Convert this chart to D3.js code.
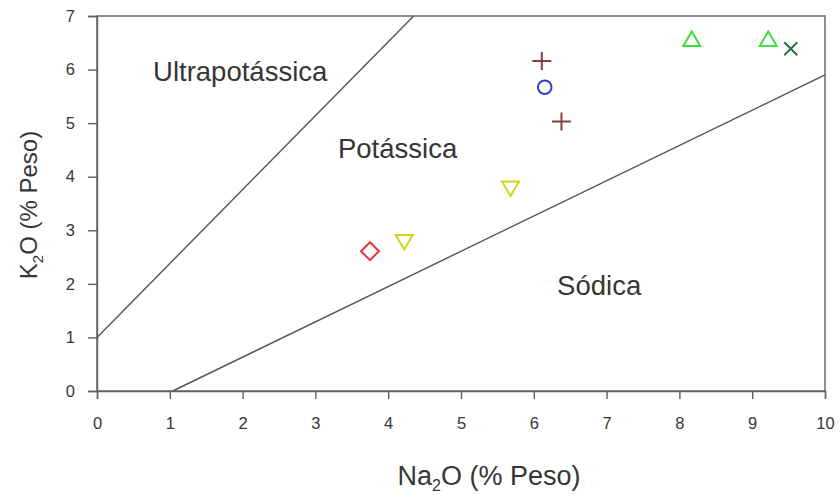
<!DOCTYPE html>
<html>
<head>
<meta charset="utf-8">
<script src="https://cdn.jsdelivr.net/npm/d3@7"></script>
<style>
  html, body { margin: 0; padding: 0; background: #fff; }
  svg { display: block; font-family: "Liberation Sans", Arial, sans-serif; }
</style>
</head>
<body>
<svg id="chart" width="840" height="495"></svg>
<script>
// Na2O vs K2O classification diagram (Sódica / Potássica / Ultrapotássica)
const xTicks = [0, 1, 2, 3, 4, 5, 6, 7, 8, 9, 10];
const yTicks = [0, 1, 2, 3, 4, 5, 6, 7];

// Sample compositions (% peso)
const sampleNa2O = [3.75, 4.22, 5.68, 6.15, 6.11, 6.38, 8.17, 9.22, 9.53];
const sampleK2O  = [2.61, 2.78, 3.78, 5.67, 6.16, 5.03, 6.57, 6.57, 6.39];
const sampleSymbol = ["diamond", "down", "down", "circle", "plus", "plus", "up", "up", "cross"];
const sampleColor  = ["#e8323c", "#d4d41e", "#d4d41e", "#3a3ad0", "#8a3c3c", "#8a3c3c", "#3ee03e", "#3ee03e", "#2f6a45"];

// Field boundaries as [Na2O, K2O] endpoints
const ultraBoundary = [[0, 1], [4.35, 7]];
const sodicBoundary = [[1.04, 0], [10, 5.9]];

// Field names and the data position of each label's left baseline point
const fieldNames = ["Ultrapotássica", "Potássica", "Sódica"];
const fieldNa2O  = [0.77, 3.31, 6.32];
const fieldK2O   = [5.79, 4.35, 1.79];

const svg = d3.select("#chart");
const margin = { left: 97, top: 16, right: 15, bottom: 104 };
const W = 840, H = 495;
const x = d3.scaleLinear().domain([0, 10]).range([margin.left, W - margin.right]);
const y = d3.scaleLinear().domain([0, 7]).range([H - margin.bottom, margin.top]);

const axisColor = "#606060";
const textColor = "#363636";

// frame
svg.append("rect")
  .attr("x", x(0)).attr("y", y(7))
  .attr("width", x(10) - x(0)).attr("height", y(0) - y(7))
  .attr("fill", "none").attr("stroke", axisColor).attr("stroke-width", 1.4);

// axes
const xAxis = svg.append("g")
  .attr("transform", `translate(0,${y(0)})`)
  .call(d3.axisBottom(x).tickValues(xTicks).tickSize(8).tickPadding(18).tickFormat(d3.format("d")));
const yAxis = svg.append("g")
  .attr("transform", `translate(${x(0)},0)`)
  .call(d3.axisLeft(y).tickValues(yTicks).tickSize(9).tickPadding(13).tickFormat(d3.format("d")));
[xAxis, yAxis].forEach(g => {
  g.select(".domain").attr("stroke", axisColor).attr("stroke-width", 1.4);
  g.selectAll(".tick line").attr("stroke", axisColor).attr("stroke-width", 1.4);
  g.selectAll(".tick text").attr("fill", textColor)
    .style("font-size", "16.5px").style("font-family", "'Liberation Sans', Arial, sans-serif");
});

// boundary lines
const line = d3.line().x(d => x(d[0])).y(d => y(d[1]));
[ultraBoundary, sodicBoundary].forEach(b => {
  svg.append("path").attr("d", line(b))
    .attr("fill", "none").attr("stroke", "#555").attr("stroke-width", 1.4);
});

// field labels (left-anchored)
svg.selectAll("text.field")
  .data(fieldNames)
  .join("text")
  .attr("class", "field")
  .attr("x", (d, i) => x(fieldNa2O[i]))
  .attr("y", (d, i) => y(fieldK2O[i]))
  .attr("fill", textColor)
  .style("font-size", "27.5px")
  .text(d => d);

// sample markers
const samples = sampleNa2O.map((v, i) => ({ na: v, k: sampleK2O[i], s: sampleSymbol[i], c: sampleColor[i] }));
function markerPath(s) {
  switch (s) {
    case "diamond": return "M0,-9L9,0L0,9L-9,0Z";
    case "down": return "M-8.5,-7L8.5,-7L0,7.5Z";
    case "up": return "M-8.5,7L8.5,7L0,-7.5Z";
    case "plus": return "M-9.5,0L9.5,0M0,-9L0,9";
    case "cross": return "M-6.5,-6.5L6.5,6.5M-6.5,6.5L6.5,-6.5";
    default: return "";
  }
}
const marks = svg.append("g");
samples.forEach(d => {
  if (d.s === "circle") {
    marks.append("circle").attr("cx", x(d.na)).attr("cy", y(d.k)).attr("r", 6.8)
      .attr("fill", "none").attr("stroke", d.c).attr("stroke-width", 2);
  } else {
    marks.append("path").attr("d", markerPath(d.s))
      .attr("transform", `translate(${x(d.na)},${y(d.k)})`)
      .attr("fill", "none").attr("stroke", d.c).attr("stroke-width", 2)
      .attr("stroke-linejoin", "miter");
  }
});

// axis titles with subscripts
const xt = svg.append("text")
  .attr("x", 489).attr("y", 485)
  .attr("text-anchor", "middle").attr("fill", textColor).style("font-size", "27px");
xt.append("tspan").text("Na");
xt.append("tspan").text("2").attr("dy", 6).style("font-size", "16px");
xt.append("tspan").text("O (% Peso)").attr("dy", -6);

const yt = svg.append("text")
  .attr("transform", `translate(37,205) rotate(-90)`)
  .attr("text-anchor", "middle").attr("fill", textColor).style("font-size", "24px");
yt.append("tspan").text("K");
yt.append("tspan").text("2").attr("dy", 6).style("font-size", "15px");
yt.append("tspan").text("O (% Peso)").attr("dy", -6);
</script>
</body>
</html>
